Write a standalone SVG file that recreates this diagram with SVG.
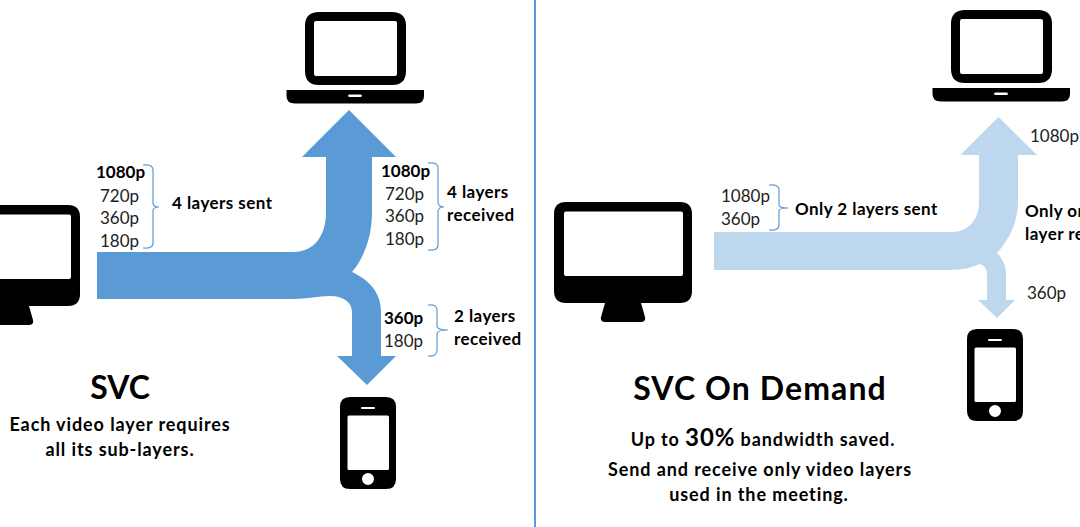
<svg xmlns="http://www.w3.org/2000/svg" width="1080" height="527" viewBox="0 0 1080 527">
<style>
text{font-family:Lato,"Open Sans","Liberation Sans",sans-serif;fill:#000}
.r{font-size:17px;fill:#222}
.b{font-size:17px;font-weight:700}
.w{letter-spacing:.45px}
.t{font-size:32px;font-weight:700}
.d{font-size:18px;font-weight:700;letter-spacing:.9px}
.br{fill:none;stroke:#5B9BD5;stroke-width:1.2}
.m{text-anchor:middle}
</style>
<defs>
<path id="monitor" fill-rule="evenodd" d="M566 202H680Q692 202 692 214V291Q692 303 680 303H641L645 317Q646 322 641 322H605Q600 322 601 317L605 303H566Q554 303 554 291V214Q554 202 566 202ZM566 211.500Q564 211.500 564 213.500V274Q564 276 566 276H681Q683 276 683 274V213.500Q683 211.500 681 211.500Z"/>
<path id="laptop" fill-rule="evenodd" d="M319 12H392Q406 12 406 26V71Q406 85 392 85H319Q305 85 305 71V26Q305 12 319 12ZM316 21Q314 21 314 23V74Q314 76 316 76H395Q397 76 397 74V23Q397 21 395 21ZM286.500 90H424V96Q424 103.500 416 103.500H295Q286.500 103.500 286.500 96ZM350 94.500Q348 94.500 348 95.700Q348 97 350 97H360Q362 97 362 95.700Q362 94.500 360 94.500Z"/>
<path id="phone" fill-rule="evenodd" d="M350 397H386Q396 397 396 407V479Q396 489 386 489H350Q340 489 340 479V407Q340 397 350 397ZM362 407Q361 407 361 408Q361 409 362 409H374Q375 409 375 408Q375 407 374 407ZM349 415.500Q347.500 415.500 347.500 417V468.500Q347.500 470 349 470H387.500Q389 470 389 468.500V417Q389 415.500 387.500 415.500ZM368 473A6 6 0 1 0 368 485A6 6 0 1 0 368 473Z"/>
</defs>
<g id="divider"><rect x="534" y="0" width="2" height="527" fill="#5B9BD5"/></g>
<g id="connectors">
<path id="arrow-svc" fill="#5B9BD5" d="M97 252H293C315 252 326 235 326 212V157H302L349 110L396 157H372V212C372 237 364 258 352 272C369 280 381 292 381 312V356H396L367 385L337 356H352V312C352 302 343 296 330 296C318 296 308 299 293 299H97Z"/>
<path id="arrow-demand" fill="#BDD7EE" d="M714 232H952C968 232 979 220 979 202V155H960.500L998.500 117L1037 155H1018V202C1018 222 1009 240 997 253C1003 259 1006 266 1006 274V300H1015L997 318L978 300H987V274C987 270 985 266 980 264C972 267 964 270 950 270H714Z"/>
<path class="br" d="M143 165Q153 164 153 170V203Q153 207 159 207Q153 207 153 211V243Q153 249 143 248"/>
<path class="br" d="M428 163Q438 162 438 168V202Q438 207 444 207Q438 207 438 212V245Q438 251 428 250"/>
<path class="br" d="M428 305Q437 304 437 310V326Q437 330 448 330Q437 330 437 334V350Q437 357 428 356"/>
<path class="br" d="M769 185Q779 184 779 190V205Q779 208 788 208Q779 208 779 211V225Q779 231 769 230"/>
</g>
<g id="node-sender-svc"><use href="#monitor" x="-612" y="3"/></g>
<g id="node-laptop-svc"><use href="#laptop"/></g>
<g id="node-phone-svc"><use href="#phone"/></g>
<g id="node-sender-demand"><use href="#monitor"/></g>
<g id="node-laptop-demand"><use href="#laptop" x="646" y="-2"/></g>
<g id="node-phone-demand"><use href="#phone" x="627" y="-68"/></g>
<g id="labels-svc">
<text class="b" x="96" y="178">1080p</text>
<text class="r" x="100" y="202">720p</text>
<text class="r" x="100" y="224">360p</text>
<text class="r" x="100" y="247">180p</text>
<text class="b w" x="172" y="209">4 layers sent</text>
<text class="b" x="381" y="177">1080p</text>
<text class="r" x="385" y="200">720p</text>
<text class="r" x="385" y="222">360p</text>
<text class="r" x="385" y="245">180p</text>
<text class="b w" x="447" y="198">4 layers</text>
<text class="b w" x="447" y="221">received</text>
<text class="b" x="384" y="324">360p</text>
<text class="r" x="384" y="347">180p</text>
<text class="b w" x="454" y="322">2 layers</text>
<text class="b w" x="454" y="345">received</text>
<text class="t m" x="120" y="399">SVC</text>
<text class="d m" x="120" y="431">Each video layer requires</text>
<text class="d m" x="120" y="456">all its sub-layers.</text>
</g>
<g id="labels-demand">
<text class="r" x="721" y="202">1080p</text>
<text class="r" x="721" y="225">360p</text>
<text class="b w" x="795" y="215">Only 2 layers sent</text>
<text class="r" x="1030" y="142">1080p</text>
<text class="b w" x="1025" y="217">Only one</text>
<text class="b w" x="1025" y="240">layer received</text>
<text class="r" x="1027" y="299">360p</text>
<text class="t m" x="760" y="400" style="letter-spacing:1.1px">SVC On Demand</text>
<text class="d m" x="763" y="446">Up to <tspan style="font-size:24px">30%</tspan> bandwidth saved.</text>
<text class="d m" x="760" y="476">Send and receive only video layers</text>
<text class="d m" x="759" y="501">used in the meeting.</text>
</g>
</svg>
